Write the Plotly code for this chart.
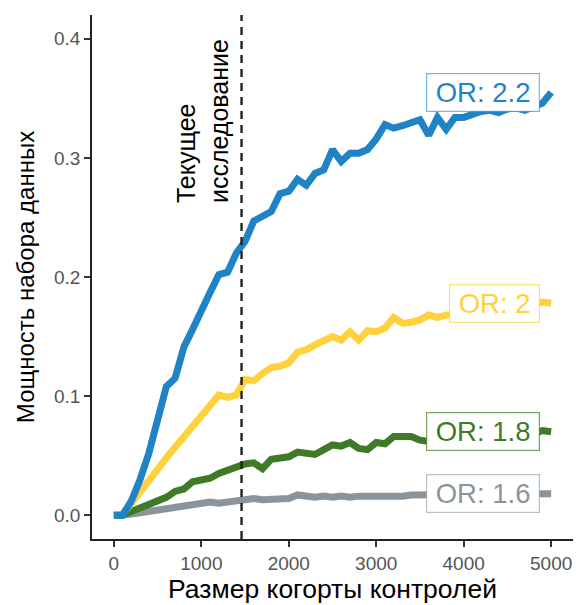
import plotly.graph_objects as go

cohort_size = list(range(0, 5001, 100))

power_or_22 = [0.000, 0.000, 0.012, 0.030, 0.052, 0.080, 0.108, 0.115, 0.141, 0.156,
               0.170, 0.187, 0.202, 0.204, 0.220, 0.230, 0.247, 0.251, 0.255, 0.270,
               0.272, 0.282, 0.277, 0.287, 0.290, 0.307, 0.297, 0.304, 0.304, 0.307,
               0.316, 0.328, 0.325, 0.327, 0.330, 0.332, 0.319, 0.334, 0.324, 0.334,
               0.334, 0.337, 0.339, 0.340, 0.338, 0.341, 0.342, 0.340, 0.343, 0.346,
               0.355]
power_or_20 = [0.000, 0.001, 0.010, 0.020, 0.030, 0.040, 0.048, 0.057, 0.066, 0.075,
               0.083, 0.091, 0.101, 0.099, 0.101, 0.114, 0.113, 0.119, 0.124, 0.125,
               0.128, 0.137, 0.139, 0.143, 0.147, 0.150, 0.147, 0.154, 0.147, 0.155,
               0.154, 0.157, 0.166, 0.161, 0.162, 0.164, 0.168, 0.166, 0.168, 0.169,
               0.170, 0.171, 0.172, 0.171, 0.173, 0.174, 0.173, 0.175, 0.176, 0.179,
               0.178]
power_or_18 = [0.000, 0.000, 0.003, 0.006, 0.009, 0.012, 0.015, 0.020, 0.022, 0.028,
               0.030, 0.031, 0.035, 0.038, 0.041, 0.043, 0.044, 0.039, 0.047, 0.048,
               0.049, 0.053, 0.052, 0.051, 0.055, 0.059, 0.058, 0.061, 0.056, 0.055,
               0.061, 0.060, 0.066, 0.066, 0.066, 0.063, 0.062, 0.064, 0.063, 0.065,
               0.066, 0.065, 0.067, 0.066, 0.068, 0.067, 0.068, 0.069, 0.068, 0.071,
               0.070]
power_or_16 = [0.000, 0.000, 0.001, 0.002, 0.003, 0.005, 0.006, 0.007, 0.008, 0.009,
               0.010, 0.011, 0.010, 0.011, 0.012, 0.013, 0.014, 0.013, 0.013, 0.013,
               0.014, 0.017, 0.016, 0.015, 0.016, 0.015, 0.016, 0.015, 0.016, 0.016,
               0.015, 0.016, 0.015, 0.016, 0.017, 0.017, 0.018, 0.017, 0.018, 0.018,
               0.017, 0.018, 0.018, 0.018, 0.017, 0.018, 0.018, 0.018, 0.018, 0.018,
               0.018]

series_labels = ["OR: 2.2", "OR: 2", "OR: 1.8", "OR: 1.6"]
series_values = [power_or_22, power_or_20, power_or_18, power_or_16]
series_colors = ["#1f83c6", "#ffd23c", "#3f7a28", "#8c949b"]
series_borders = ["rgba(31,131,198,0.6)", "rgba(255,210,60,0.7)",
                  "rgba(63,122,40,0.7)", "rgba(140,148,155,0.6)"]

current_study_size = 1460
label_x = 4875
x_ticks = [0, 1000, 2000, 3000, 4000, 5000]
y_ticks = [0.0, 0.1, 0.2, 0.3, 0.4]
y_tick_text = ["0.0", "0.1", "0.2", "0.3", "0.4"]

FONT = "Liberation Sans, Arial, Helvetica, sans-serif"

fig = go.Figure()

for lab, vals, col in reversed(list(zip(series_labels, series_values, series_colors))):
    fig.add_trace(go.Scatter(x=cohort_size, y=vals, mode="lines",
                             line=dict(color=col, width=7), name=lab,
                             showlegend=False, hoverinfo="skip"))

fig.add_shape(type="line", xref="x", yref="paper",
              x0=current_study_size, x1=current_study_size, y0=0, y1=1,
              line=dict(color="#222222", width=2.4, dash="8px,6px"))

for lab, vals, col, bcol in zip(series_labels, series_values, series_colors, series_borders):
    fig.add_annotation(x=label_x, y=vals[-1], xref="x", yref="y",
                       text="&#8201;" + lab + "&#8201;", showarrow=False,
                       xanchor="right", yanchor="middle",
                       font=dict(family=FONT, size=27.5, color=col),
                       bgcolor="white", bordercolor=bcol, borderwidth=1.2,
                       borderpad=3)

fig.add_annotation(x=1020, y=0.331, xref="x", yref="y",
                   text="Текущее<br>исследование", showarrow=False,
                   textangle=-90, align="left", xanchor="center", yanchor="middle",
                   font=dict(family=FONT, size=25, color="black"))

fig.update_layout(
    width=576, height=605,
    margin=dict(l=92, r=3, t=15, b=66),
    plot_bgcolor="white", paper_bgcolor="white",
    font=dict(family=FONT),
    xaxis=dict(range=[-250, 5250], tickvals=x_ticks, ticks="outside", ticklen=6,
               tickwidth=1.5, tickcolor="#333333", showline=True, linecolor="#222222",
               linewidth=1.8, showgrid=False, zeroline=False,
               tickfont=dict(size=19, color="#555555", family=FONT),
               title=dict(text="Размер когорты контролей", standoff=4,
                          font=dict(size=26.5, color="black", family=FONT))),
    yaxis=dict(range=[-0.02, 0.42], tickvals=y_ticks, ticktext=y_tick_text,
               ticks="outside", ticklen=6, tickwidth=1.5, tickcolor="#333333",
               showline=True, linecolor="#222222", linewidth=1.8, showgrid=False,
               zeroline=False, tickfont=dict(size=19, color="#555555", family=FONT),
               title=dict(text="Мощность набора данных", standoff=12,
                          font=dict(size=24, color="black", family=FONT))),
)

fig.write_html("out.html")
